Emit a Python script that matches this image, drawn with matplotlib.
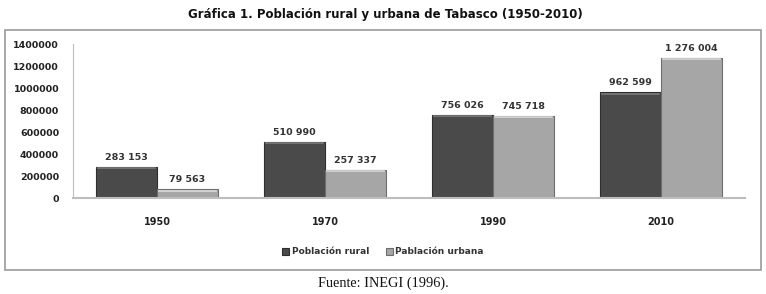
import numpy as np
import matplotlib
matplotlib.use("Agg")
import matplotlib.pyplot as plt
from matplotlib.patches import Rectangle

# data
years = ["1950", "1970", "1990", "2010"]
rural = [283153, 510990, 756026, 962599]
urbana = [79563, 257337, 745718, 1276004]
yticks = [0, 200000, 400000, 600000, 800000, 1000000, 1200000, 1400000]

RURAL_COLOR = "#4a4a4a"
URBAN_COLOR = "#a6a6a6"


def fmt(v):
    return f"{v:,}".replace(",", " ")


fig = plt.figure(figsize=(7.66, 2.94), dpi=100)
fig.patch.set_facecolor("white")

# outer frame of the chart
fig.patches.append(Rectangle((0.006, 0.082), 0.988, 0.816, transform=fig.transFigure,
                             facecolor="white", edgecolor="#9a9a9a", linewidth=1.2, zorder=-5))

ax = fig.add_axes([0.0953, 0.3265, 0.8773, 0.5235])
ax.set_facecolor("none")

x = np.arange(len(years))
w = 0.363
b1 = ax.bar(x - w / 2, rural, w, color=RURAL_COLOR, edgecolor="#2e2e2e", linewidth=0.8,
            label="Población rural", zorder=2)
b2 = ax.bar(x + w / 2, urbana, w, color=URBAN_COLOR, edgecolor="#6e6e6e", linewidth=0.8,
            label="Pablación urbana", zorder=2)

# light top bevel on each bar
for bars, top in ((b1, "#7a7a7a"), (b2, "#dadada")):
    for r in bars:
        ax.plot([r.get_x() + 0.01, r.get_x() + r.get_width() - 0.01],
                [r.get_height() - 12000] * 2, color=top, lw=1.2, zorder=3)

for xi, v in zip(x - w / 2, rural):
    ax.text(xi, v + 45000, fmt(v), ha="center", va="bottom", fontsize=6.8,
            fontweight="bold", color="#333333")
for xi, v in zip(x + w / 2, urbana):
    ax.text(xi, v + 45000, fmt(v), ha="center", va="bottom", fontsize=6.8,
            fontweight="bold", color="#333333")

ax.set_xlim(-0.5, 3.5)
ax.set_ylim(0, 1400000)
ax.set_yticks(yticks)
ax.set_yticklabels([str(t) for t in yticks], fontsize=6.8, fontweight="bold", color="#222222")
ax.set_xticks(x)
ax.set_xticklabels(years, fontsize=7, fontweight="bold", color="#222222")
ax.tick_params(axis="both", length=0)
ax.tick_params(axis="x", pad=14)
ax.tick_params(axis="y", pad=10)

for s in ("top", "right"):
    ax.spines[s].set_visible(False)
ax.spines["left"].set_color("#bdbdbd")
ax.spines["bottom"].set_color("#bdbdbd")
ax.spines["bottom"].set_linewidth(1.5)

leg = fig.legend(handles=[b1, b2], loc="center", bbox_to_anchor=(0.5, 0.143), ncol=2,
                 frameon=False, fontsize=6.5, handlelength=0.8, handleheight=0.8,
                 handletextpad=0.3, columnspacing=1.8)
for t in leg.get_texts():
    t.set_fontweight("bold")
    t.set_color("#333333")

fig.text(0.503, 0.952, "Gráfica 1. Población rural y urbana de Tabasco (1950-2010)",
         ha="center", va="center", fontsize=8.5, fontweight="bold", color="#111111")
fig.text(0.5, 0.037, "Fuente: INEGI (1996).", ha="center", va="center",
         fontsize=10.3, family="Liberation Serif", color="#111111")

fig.savefig("out.png", dpi=100, facecolor="white")
